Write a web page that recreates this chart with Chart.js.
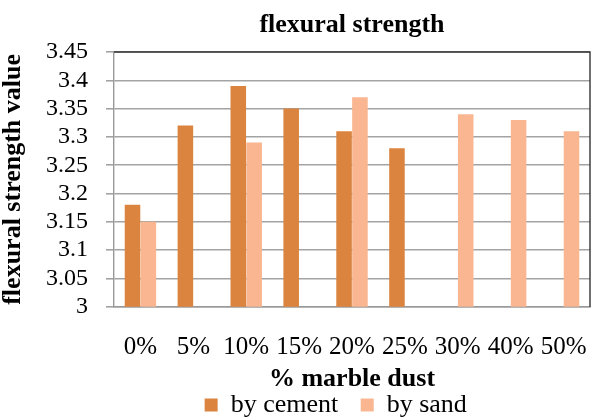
<!DOCTYPE html>
<html>
<head>
<meta charset="utf-8">
<script src="https://cdn.jsdelivr.net/npm/chart.js@4/dist/chart.umd.min.js"></script>
<style>
   html,body{margin:0;padding:0;background:#fff;}
   #wrap{width:591px;height:417px;position:relative;}
</style>
</head>
<body>
<div id="wrap"><canvas id="chart"></canvas></div>
<script>

/* data */
let categories =
   ["0%","5%","10%","15%","20%","25%","30%","40%","50%"];

let byCement =
   [3.18,3.32,3.39,3.35,3.31,3.28,null,null,null];

let bySand =
   [3.15,null,3.29,null,3.37,null,3.34,3.33,3.31];

let yTicks =
   [3,3.05,3.1,3.15,3.2,3.25,3.3,3.35,3.4,3.45];

const SERIF = "'Liberation Serif','Times New Roman',serif";

/* top and right frame of the plot area */
let frameLines = {

   id:"frameLines",

   afterDraw:function(chart){

      let a = chart.chartArea;
      let ctx = chart.ctx;

      ctx.save();
      ctx.strokeStyle = "#333";
      ctx.lineWidth = 1.4;
      ctx.beginPath();
      ctx.moveTo(a.left,a.top);
      ctx.lineTo(a.right,a.top);
      ctx.lineTo(a.right,a.bottom);
      ctx.stroke();
      ctx.restore();

   }

};

let ctx =
   document.getElementById("chart").getContext("2d");

new Chart(ctx, {

   type:"bar",

   data:{

      labels:categories,

      datasets:[{

         label:"by cement",
         data:byCement,
         backgroundColor:"#DB843F",
         categoryPercentage:0.6,
         barPercentage:0.98

      },{

         label:"by sand",
         data:bySand,
         backgroundColor:"#F9B690",
         categoryPercentage:0.6,
         barPercentage:0.98

      }]

   },

   options:{

      responsive:true,
      maintainAspectRatio:false,
      animation:false,

      layout:{
         padding:{left:0,right:1,top:0,bottom:-11}
      },

      plugins:{

         title:{
            display:true,
            fullSize:false,
            text:"flexural strength",
            color:"#000",
            font:{family:SERIF,size:26,weight:"bold",lineHeight:1},
            padding:{top:12,bottom:14}
         },

         legend:{
            position:"bottom",
            fullSize:false,
            labels:{
               color:"#000",
               font:{family:SERIF,size:26,lineHeight:1},
               boxWidth:13,
               boxHeight:13,
               padding:3,
               generateLabels:function(chart){

                  let items =
                     Chart.defaults.plugins.legend.labels.generateLabels(chart);

                  /* wider gap between the entries, whole legend a bit to the left */
                  items[0].text += "   ";
                  items[1].text += "     ";

                  return items;

               }
            }
         },

         tooltip:{enabled:false}

      },

      scales:{

         x:{

            /* let the plot run to the right edge like the original */
            afterFit:function(scale){
               scale.paddingLeft = 0;
               scale.paddingRight = 0;
            },

            grid:{
               display:true,
               drawOnChartArea:false,
               tickLength:38,
               tickColor:"rgba(0,0,0,0)"
            },

            border:{color:"#999",width:1.4},

            ticks:{
               color:"#000",
               font:{family:SERIF,size:25,lineHeight:1.05},
               padding:-10,
               maxRotation:0,
               autoSkip:false
            },

            title:{
               display:true,
               text:"% marble dust",
               color:"#000",
               font:{family:SERIF,size:26,weight:"bold",lineHeight:1},
               padding:{top:15,bottom:-3}
            }

         },

         y:{

            min:3,
            max:3.45,

            afterBuildTicks:function(axis){
               axis.ticks = yTicks.map(v=>({value:v}));
            },

            grid:{
               color:"#a3a3a3",
               lineWidth:1.6,
               tickLength:8
            },

            border:{color:"#999",width:1.4},

            ticks:{
               color:"#000",
               font:{family:SERIF,size:24},
               padding:18,
               autoSkip:false,
               callback:function(v){
                  return String(parseFloat(v.toFixed(2)));
               }
            },

            title:{
               display:true,
               text:"flexural strength value",
               color:"#000",
               font:{family:SERIF,size:26,weight:"bold",lineHeight:1},
               padding:{top:0,bottom:2}
            }

         }

      }

   },

   plugins:[frameLines]

});

</script>
</body>
</html>
